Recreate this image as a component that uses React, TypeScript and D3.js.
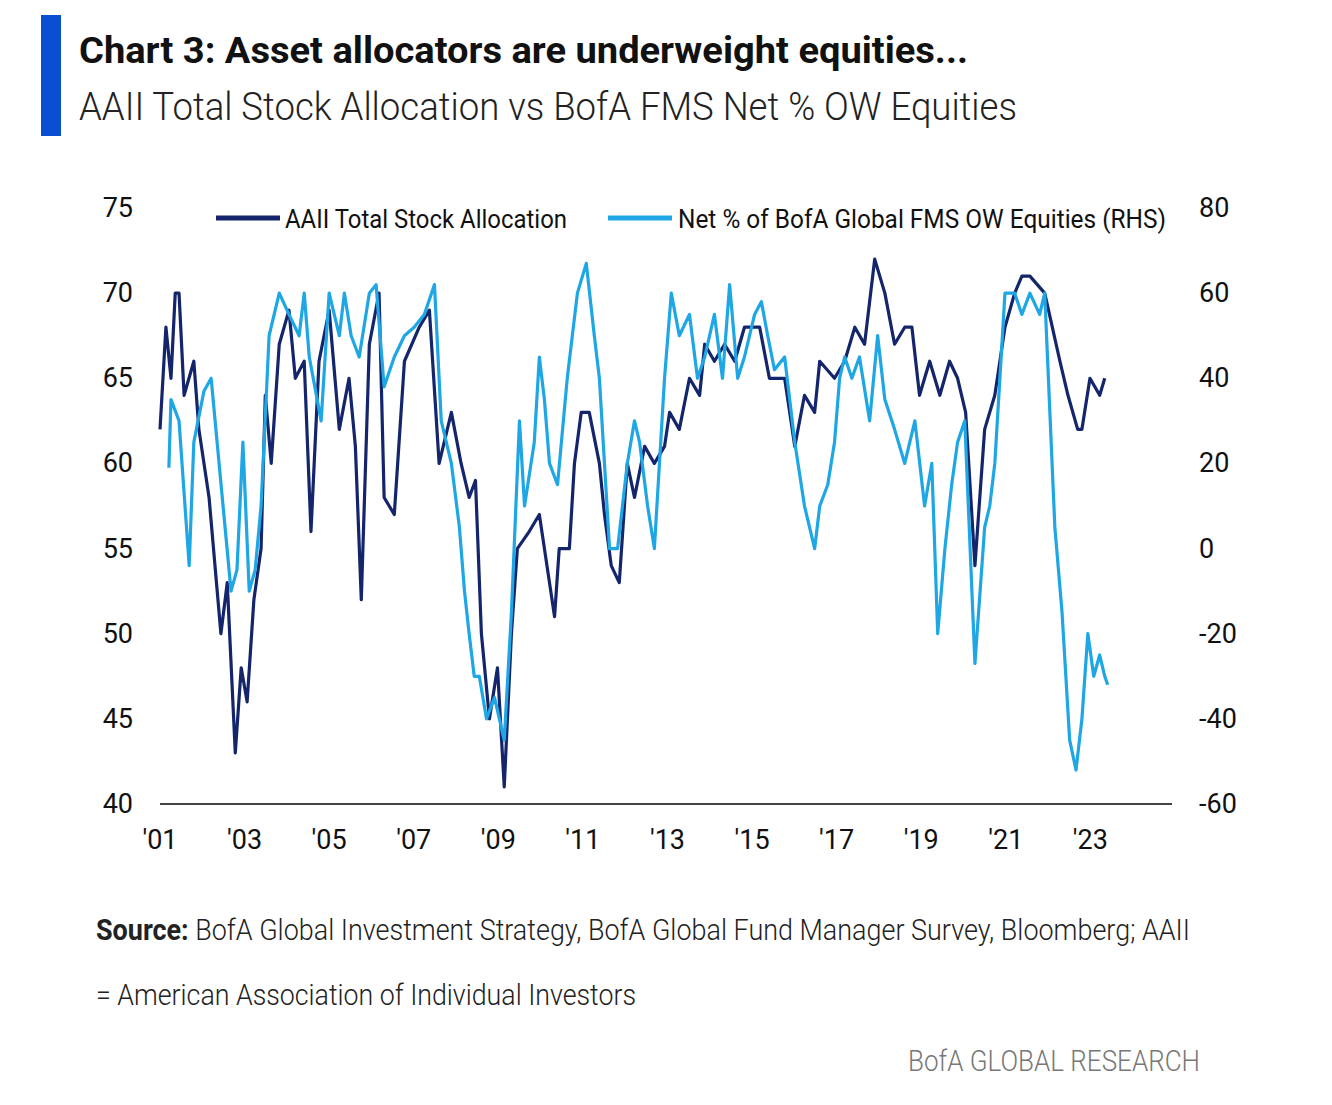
import React from "react";
import * as d3 from "d3";

const aaiiYears = [2001.0,2001.14,2001.26,2001.36,2001.45,2001.57,2001.8,2001.92,2002.16,2002.44,2002.59,2002.78,2002.92,2003.06,2003.22,2003.39,2003.49,2003.63,2003.82,2004.05,2004.2,2004.41,2004.57,2004.76,2005.0,2005.24,2005.47,2005.62,2005.76,2005.95,2006.18,2006.3,2006.54,2006.78,2007.13,2007.37,2007.6,2007.89,2008.12,2008.31,2008.46,2008.6,2008.79,2008.98,2009.14,2009.31,2009.45,2009.73,2009.97,2010.21,2010.33,2010.44,2010.68,2010.8,2010.96,2011.15,2011.39,2011.51,2011.67,2011.86,2012.05,2012.22,2012.46,2012.69,2012.93,2013.05,2013.28,2013.52,2013.76,2013.88,2014.11,2014.35,2014.59,2014.82,2015.18,2015.41,2015.77,2016.01,2016.24,2016.48,2016.6,2016.95,2017.19,2017.43,2017.66,2017.9,2018.14,2018.37,2018.61,2018.78,2018.96,2019.2,2019.44,2019.67,2019.86,2020.05,2020.27,2020.5,2020.74,2020.98,2021.21,2021.38,2021.57,2021.92,2022.28,2022.47,2022.7,2022.8,2022.99,2023.22,2023.34];
const aaiiValues = [62,68,65,70,70,64,66,62,58,50,53,43,48,46,52,55,64,60,67,69,65,66,56,66,69,62,65,61,52,67,70,58,57,66,68,69,60,63,60,58,59,50,45,48,41,50,55,56,57,53,51,55,55,60,63,63,60,57,54,53,60,58,61,60,61,63,62,65,64,67,66,67,66,68,68,65,65,61,64,63,66,65,66,68,67,72,70,67,68,68,64,66,64,66,65,63,54,62,64,68,70,71,71,70,66,64,62,62,65,64,65];

const fmsYears = [2001.21,2001.26,2001.45,2001.69,2001.8,2002.04,2002.21,2002.35,2002.51,2002.68,2002.82,2002.96,2003.11,2003.25,2003.39,2003.58,2003.82,2004.05,2004.29,2004.41,2004.53,2004.81,2005.0,2005.24,2005.36,2005.52,2005.71,2005.95,2006.11,2006.3,2006.54,2006.78,2007.01,2007.25,2007.49,2007.65,2007.89,2008.08,2008.2,2008.31,2008.43,2008.55,2008.72,2008.91,2009.14,2009.31,2009.5,2009.62,2009.85,2009.97,2010.09,2010.21,2010.4,2010.63,2010.87,2011.08,2011.27,2011.39,2011.51,2011.63,2011.82,2012.05,2012.22,2012.34,2012.53,2012.69,2012.93,2013.09,2013.28,2013.52,2013.71,2013.88,2014.11,2014.3,2014.47,2014.66,2014.82,2015.06,2015.22,2015.37,2015.53,2015.77,2016.01,2016.24,2016.48,2016.6,2016.79,2016.95,2017.07,2017.19,2017.36,2017.54,2017.78,2017.97,2018.14,2018.37,2018.61,2018.85,2019.08,2019.25,2019.39,2019.56,2019.72,2019.86,2020.03,2020.27,2020.5,2020.62,2020.74,2020.98,2021.21,2021.38,2021.57,2021.8,2021.92,2022.16,2022.33,2022.51,2022.66,2022.8,2022.94,2023.08,2023.22,2023.34,2023.41];
const fmsValues = [19,35,30,-4,25,37,40,25,8,-10,-5,25,-10,-5,10,50,60,55,50,60,45,30,60,50,60,50,45,60,62,38,45,50,52,55,62,30,20,5,-10,-20,-30,-30,-40,-35,-45,-15,30,10,25,45,35,20,15,40,60,67,50,40,20,0,0,20,30,25,10,0,40,60,50,55,40,45,55,40,62,40,45,55,58,50,42,45,25,10,0,10,15,25,40,45,40,45,30,50,35,28,20,30,10,20,-20,0,15,25,30,-27,5,10,20,60,60,55,60,55,60,5,-15,-45,-52,-40,-20,-30,-25,-30,-32];

const leftTicks = [40, 45, 50, 55, 60, 65, 70, 75];
const rightTicks = [-60, -40, -20, 0, 20, 40, 60, 80];
const xTickYears = [2001, 2003, 2005, 2007, 2009, 2011, 2013, 2015, 2017, 2019, 2021, 2023];

const DARK = "#14256b";
const LIGHT = "#1ea7e4";
const FONT = "Roboto, 'Liberation Sans', sans-serif";

export default function App() {
  const x = d3.scaleLinear().domain([2001, 2024.93]).range([160, 1172]);
  const yL = d3.scaleLinear().domain([40, 75]).range([804, 208]);
  const yR = d3.scaleLinear().domain([-60, 80]).range([804, 208]);
  const lineL = d3.line<number>().x((_, i) => x(aaiiYears[i])).y((d) => yL(d));
  const lineR = d3.line<number>().x((_, i) => x(fmsYears[i])).y((d) => yR(d));
  return (
    <svg width={1332} height={1105} style={{ position: "absolute", left: 0, top: 0, background: "#fff" }} fontFamily={FONT}>
      <rect x={41} y={15} width={20} height={121} fill="#0a4fd1" />
      <text x={79} y={63} fontSize={37} fontWeight={700} fill="#111" textLength={889} lengthAdjust="spacingAndGlyphs">Chart 3: Asset allocators are underweight equities...</text>
      <text x={79} y={120} fontSize={38} fontWeight={300} fill="#222" textLength={938} lengthAdjust="spacingAndGlyphs">AAII Total Stock Allocation vs BofA FMS Net % OW Equities</text>

      {leftTicks.map((t) => (
        <text key={t} x={133} y={yL(t) + 9} fontSize={27} textAnchor="end" fill="#111">{t}</text>
      ))}
      {rightTicks.map((t) => (
        <text key={t} x={1199} y={yR(t) + 9} fontSize={27} textAnchor="start" fill="#111">{t}</text>
      ))}
      {xTickYears.map((t) => (
        <text key={t} x={x(t)} y={849} fontSize={27} textAnchor="middle" fill="#111">{"'" + String(t).slice(2)}</text>
      ))}
      <line x1={160} x2={1172} y1={804} y2={804} stroke="#444" strokeWidth={2} />

      <path d={lineL(aaiiValues) || ""} fill="none" stroke={DARK} strokeWidth={3.2} strokeLinejoin="round" />
      <path d={lineR(fmsValues) || ""} fill="none" stroke={LIGHT} strokeWidth={3.2} strokeLinejoin="round" />

      <line x1={216} x2={280} y1={218} y2={218} stroke={DARK} strokeWidth={5} />
      <text x={285} y={228} fontSize={26} fill="#111" textLength={282} lengthAdjust="spacingAndGlyphs">AAII Total Stock Allocation</text>
      <line x1={608} x2={672} y1={218} y2={218} stroke={LIGHT} strokeWidth={5} />
      <text x={678} y={228} fontSize={26} fill="#111" textLength={488} lengthAdjust="spacingAndGlyphs">Net % of BofA Global FMS OW Equities (RHS)</text>

      <text x={96} y={940} fontSize={29} fill="#222" textLength={1094} lengthAdjust="spacingAndGlyphs">
        <tspan fontWeight={700}>Source:</tspan>
        <tspan fontWeight={300}> BofA Global Investment Strategy, BofA Global Fund Manager Survey, Bloomberg; AAII</tspan>
      </text>
      <text x={96} y={1005} fontSize={29} fontWeight={300} fill="#222" textLength={540} lengthAdjust="spacingAndGlyphs">= American Association of Individual Investors</text>
      <text x={1200} y={1071} fontSize={29} fontWeight={300} fill="#777" textAnchor="end" textLength={292} lengthAdjust="spacingAndGlyphs">BofA GLOBAL RESEARCH</text>
    </svg>
  );
}
